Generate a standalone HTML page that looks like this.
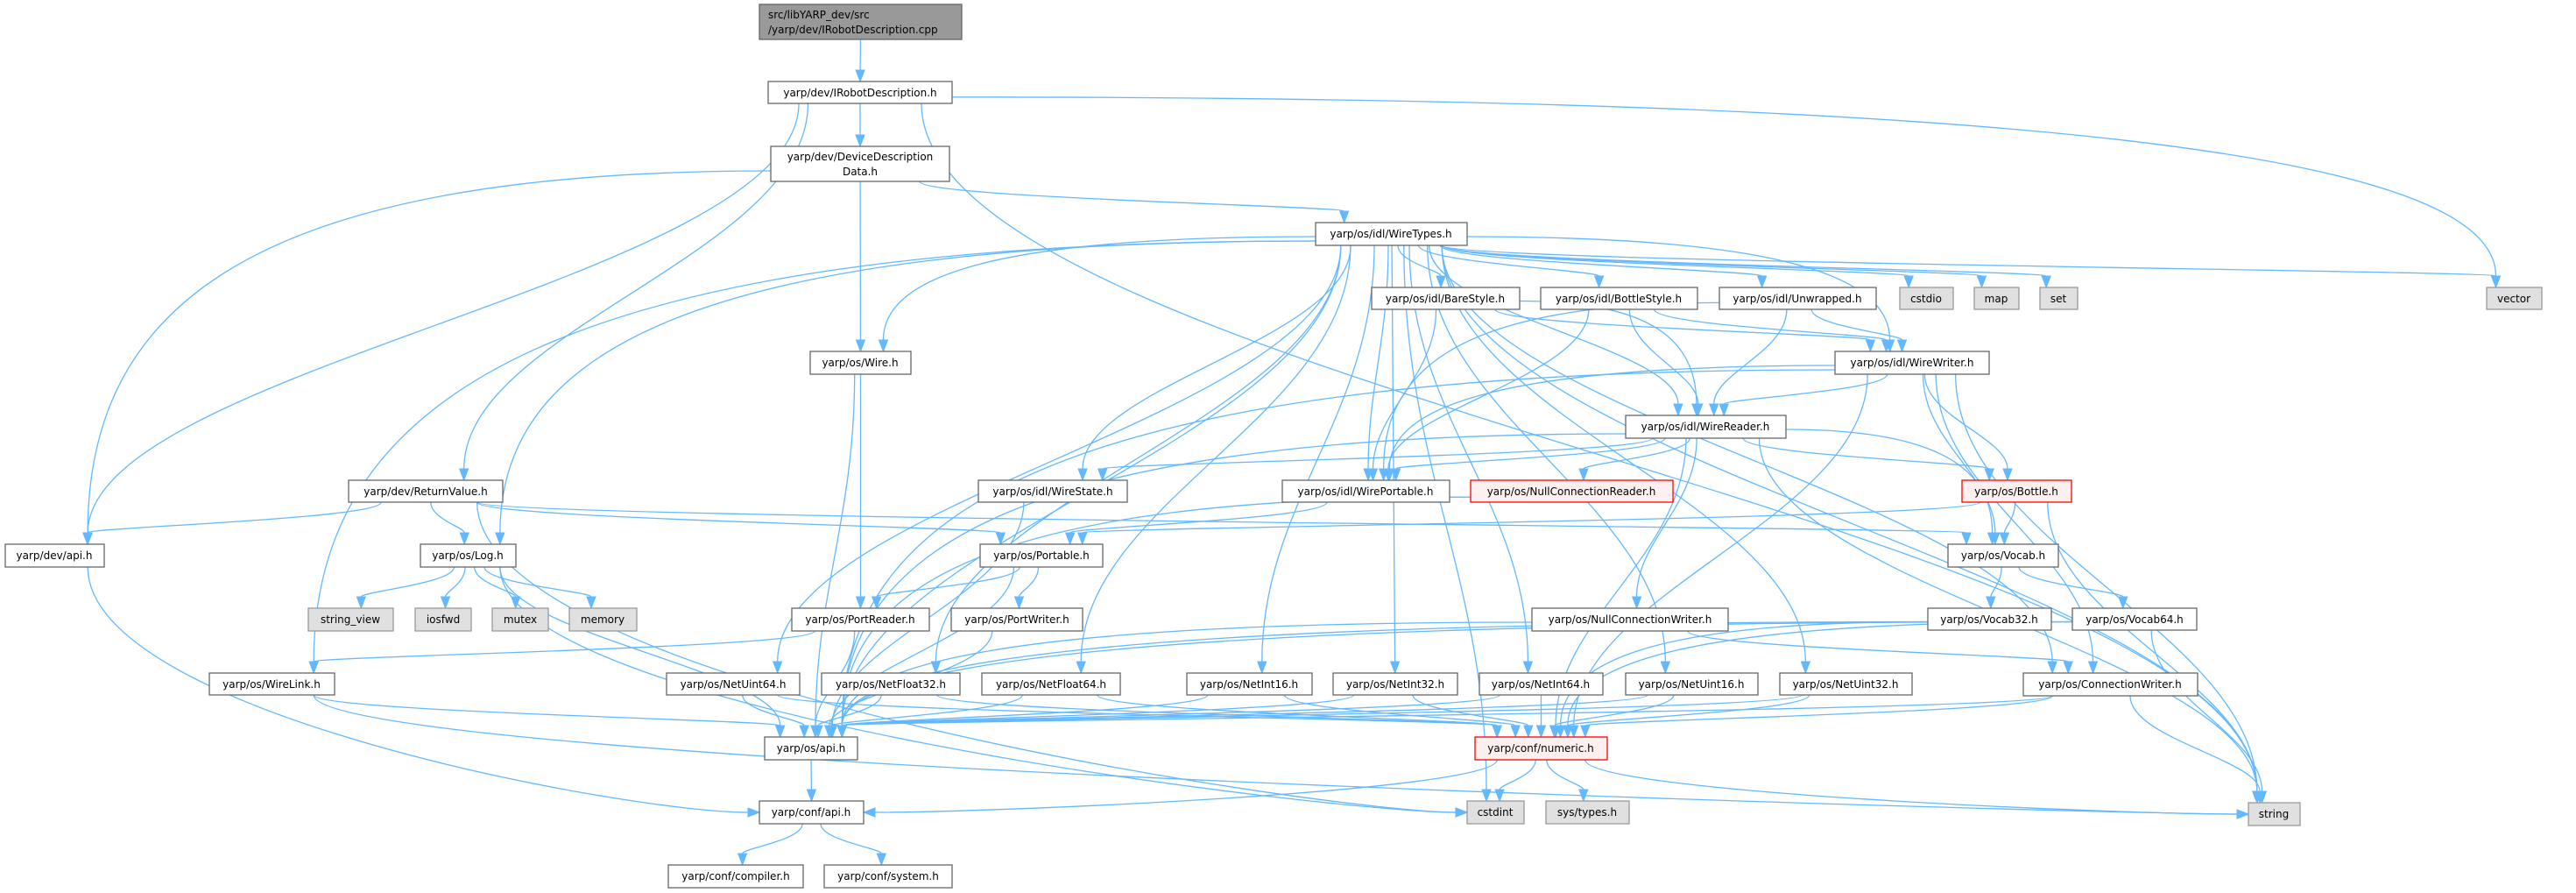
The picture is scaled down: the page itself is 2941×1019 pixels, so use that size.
<!DOCTYPE html>
<html><head><meta charset="utf-8">
<style>
html,body{margin:0;padding:0;background:#fff;}
svg{display:block;}
text{font-family:"DejaVu Sans","Liberation Sans",sans-serif;font-size:12px;fill:#000;}
</style></head>
<body>
<svg id="g" width="2941" height="1019" viewBox="0 0 2941 1019" xmlns="http://www.w3.org/2000/svg">
<g id="edges" fill="none" stroke="#63b8ff" stroke-width="1.3"></g>
<g id="arrows" fill="#63b8ff" stroke="#63b8ff" stroke-width="1"></g>
<g id="nodes" stroke-width="1.3">
<rect x="867" y="5" width="231" height="40" fill="#999999" stroke="#666666"/>
<text x="877" y="21">src/libYARP_dev/src</text><text x="877" y="38">/yarp/dev/IRobotDescription.cpp</text>
<rect x="877" y="93" width="210" height="25" fill="#fff" stroke="#666"/><text x="982" y="110" text-anchor="middle">yarp/dev/IRobotDescription.h</text>
<rect x="880" y="167" width="204" height="40" fill="#fff" stroke="#666"/><text x="982" y="183" text-anchor="middle">yarp/dev/DeviceDescription</text><text x="982" y="200" text-anchor="middle">Data.h</text>
<rect x="1502" y="254" width="173" height="26" fill="#fff" stroke="#666"/><text x="1588" y="271" text-anchor="middle">yarp/os/idl/WireTypes.h</text>
<rect x="925" y="401" width="115" height="26" fill="#fff" stroke="#666"/><text x="982" y="418" text-anchor="middle">yarp/os/Wire.h</text>
<rect x="1566" y="328" width="169" height="25" fill="#fff" stroke="#666"/><text x="1650" y="345" text-anchor="middle">yarp/os/idl/BareStyle.h</text>
<rect x="1759" y="328" width="179" height="25" fill="#fff" stroke="#666"/><text x="1848" y="345" text-anchor="middle">yarp/os/idl/BottleStyle.h</text>
<rect x="1963" y="328" width="179" height="25" fill="#fff" stroke="#666"/><text x="2052" y="345" text-anchor="middle">yarp/os/idl/Unwrapped.h</text>
<rect x="2169" y="328" width="61" height="25" fill="#e0e0e0" stroke="#999"/><text x="2199" y="345" text-anchor="middle">cstdio</text>
<rect x="2254" y="328" width="51" height="25" fill="#e0e0e0" stroke="#999"/><text x="2279" y="345" text-anchor="middle">map</text>
<rect x="2329" y="328" width="43" height="25" fill="#e0e0e0" stroke="#999"/><text x="2350" y="345" text-anchor="middle">set</text>
<rect x="2839" y="328" width="63" height="25" fill="#e0e0e0" stroke="#999"/><text x="2870" y="345" text-anchor="middle">vector</text>
<rect x="2095" y="401" width="176" height="26" fill="#fff" stroke="#666"/><text x="2183" y="418" text-anchor="middle">yarp/os/idl/WireWriter.h</text>
<rect x="1856" y="474" width="183" height="26" fill="#fff" stroke="#666"/><text x="1947" y="491" text-anchor="middle">yarp/os/idl/WireReader.h</text>
<rect x="398" y="548" width="176" height="25" fill="#fff" stroke="#666"/><text x="486" y="565" text-anchor="middle">yarp/dev/ReturnValue.h</text>
<rect x="1117" y="548" width="170" height="25" fill="#fff" stroke="#666"/><text x="1202" y="565" text-anchor="middle">yarp/os/idl/WireState.h</text>
<rect x="1464" y="548" width="191" height="25" fill="#fff" stroke="#666"/><text x="1559" y="565" text-anchor="middle">yarp/os/idl/WirePortable.h</text>
<rect x="1679" y="548" width="231" height="25" fill="#fff0f0" stroke="#ff0000"/><text x="1794" y="565" text-anchor="middle">yarp/os/NullConnectionReader.h</text>
<rect x="2240" y="548" width="125" height="25" fill="#fff0f0" stroke="#ff0000"/><text x="2302" y="565" text-anchor="middle">yarp/os/Bottle.h</text>
<rect x="6" y="621" width="113" height="26" fill="#fff" stroke="#666"/><text x="62" y="638" text-anchor="middle">yarp/dev/api.h</text>
<rect x="480" y="621" width="109" height="26" fill="#fff" stroke="#666"/><text x="534" y="638" text-anchor="middle">yarp/os/Log.h</text>
<rect x="1119" y="621" width="140" height="26" fill="#fff" stroke="#666"/><text x="1189" y="638" text-anchor="middle">yarp/os/Portable.h</text>
<rect x="2224" y="621" width="126" height="26" fill="#fff" stroke="#666"/><text x="2287" y="638" text-anchor="middle">yarp/os/Vocab.h</text>
<rect x="352" y="694" width="97" height="26" fill="#e0e0e0" stroke="#999"/><text x="400" y="711" text-anchor="middle">string_view</text>
<rect x="474" y="694" width="64" height="26" fill="#e0e0e0" stroke="#999"/><text x="506" y="711" text-anchor="middle">iosfwd</text>
<rect x="562" y="694" width="64" height="26" fill="#e0e0e0" stroke="#999"/><text x="594" y="711" text-anchor="middle">mutex</text>
<rect x="650" y="694" width="77" height="26" fill="#e0e0e0" stroke="#999"/><text x="688" y="711" text-anchor="middle">memory</text>
<rect x="904" y="694" width="157" height="26" fill="#fff" stroke="#666"/><text x="982" y="711" text-anchor="middle">yarp/os/PortReader.h</text>
<rect x="1086" y="694" width="150" height="26" fill="#fff" stroke="#666"/><text x="1161" y="711" text-anchor="middle">yarp/os/PortWriter.h</text>
<rect x="1749" y="694" width="224" height="26" fill="#fff" stroke="#666"/><text x="1861" y="711" text-anchor="middle">yarp/os/NullConnectionWriter.h</text>
<rect x="2201" y="694" width="141" height="25" fill="#fff" stroke="#666"/><text x="2271" y="711" text-anchor="middle">yarp/os/Vocab32.h</text>
<rect x="2366" y="694" width="142" height="25" fill="#fff" stroke="#666"/><text x="2437" y="711" text-anchor="middle">yarp/os/Vocab64.h</text>
<rect x="239" y="768" width="143" height="25" fill="#fff" stroke="#666"/><text x="310" y="785" text-anchor="middle">yarp/os/WireLink.h</text>
<rect x="761" y="768" width="152" height="25" fill="#fff" stroke="#666"/><text x="837" y="785" text-anchor="middle">yarp/os/NetUint64.h</text>
<rect x="938" y="768" width="158" height="25" fill="#fff" stroke="#666"/><text x="1017" y="785" text-anchor="middle">yarp/os/NetFloat32.h</text>
<rect x="1121" y="768" width="158" height="25" fill="#fff" stroke="#666"/><text x="1200" y="785" text-anchor="middle">yarp/os/NetFloat64.h</text>
<rect x="1355" y="768" width="143" height="25" fill="#fff" stroke="#666"/><text x="1426" y="785" text-anchor="middle">yarp/os/NetInt16.h</text>
<rect x="1522" y="768" width="142" height="25" fill="#fff" stroke="#666"/><text x="1593" y="785" text-anchor="middle">yarp/os/NetInt32.h</text>
<rect x="1689" y="768" width="141" height="25" fill="#fff" stroke="#666"/><text x="1759" y="785" text-anchor="middle">yarp/os/NetInt64.h</text>
<rect x="1856" y="768" width="151" height="25" fill="#fff" stroke="#666"/><text x="1931" y="785" text-anchor="middle">yarp/os/NetUint16.h</text>
<rect x="2032" y="768" width="151" height="25" fill="#fff" stroke="#666"/><text x="2107" y="785" text-anchor="middle">yarp/os/NetUint32.h</text>
<rect x="2310" y="768" width="199" height="26" fill="#fff" stroke="#666"/><text x="2409" y="785" text-anchor="middle">yarp/os/ConnectionWriter.h</text>
<rect x="873" y="841" width="106" height="26" fill="#fff" stroke="#666"/><text x="926" y="858" text-anchor="middle">yarp/os/api.h</text>
<rect x="1684" y="841" width="151" height="26" fill="#fff0f0" stroke="#ff0000"/><text x="1759" y="858" text-anchor="middle">yarp/conf/numeric.h</text>
<rect x="867" y="914" width="119" height="26" fill="#fff" stroke="#666"/><text x="926" y="931" text-anchor="middle">yarp/conf/api.h</text>
<rect x="1675" y="914" width="65" height="26" fill="#e0e0e0" stroke="#999"/><text x="1707" y="931" text-anchor="middle">cstdint</text>
<rect x="1765" y="914" width="95" height="26" fill="#e0e0e0" stroke="#999"/><text x="1812" y="931" text-anchor="middle">sys/types.h</text>
<rect x="2567" y="916" width="59" height="26" fill="#e0e0e0" stroke="#999"/><text x="2596" y="933" text-anchor="middle">string</text>
<rect x="763" y="987" width="154" height="26" fill="#fff" stroke="#666"/><text x="840" y="1004" text-anchor="middle">yarp/conf/compiler.h</text>
<rect x="941" y="987" width="146" height="26" fill="#fff" stroke="#666"/><text x="1014" y="1004" text-anchor="middle">yarp/conf/system.h</text>
</g>
</svg>
<script>
var N={root:[867,5,1098,45],IRD:[877,93,1087,118],DDD:[880,167,1084,207],WT:[1502,254,1675,280],Wire:[925,401,1040,427],
Bare:[1566,328,1735,353],BS:[1759,328,1938,353],Unw:[1963,328,2142,353],cstdio:[2169,328,2230,353],map:[2254,328,2305,353],set:[2329,328,2372,353],vector:[2839,328,2902,353],
WW:[2095,401,2271,427],WR:[1856,474,2039,500],RV:[398,548,574,573],WS:[1117,548,1287,573],WP:[1464,548,1655,573],NCR:[1679,548,1910,573],Bottle:[2240,548,2365,573],
devapi:[6,621,119,647],Log:[480,621,589,647],Portable:[1119,621,1259,647],Vocab:[2224,621,2350,647],
sv:[352,694,449,720],iosfwd:[474,694,538,720],mutex:[562,694,626,720],memory:[650,694,727,720],PR:[904,694,1061,720],PW:[1086,694,1236,720],NCW:[1749,694,1973,720],V32:[2201,694,2342,719],V64:[2366,694,2508,719],
WL:[239,768,382,793],NU64:[761,768,913,793],NF32:[938,768,1096,793],NF64:[1121,768,1279,793],NI16:[1355,768,1498,793],NI32:[1522,768,1664,793],NI64:[1689,768,1830,793],NU16:[1856,768,2007,793],NU32:[2032,768,2183,793],CW:[2310,768,2509,794],
osapi:[873,841,979,867],numeric:[1684,841,1835,867],confapi:[867,914,986,940],cstdint:[1675,914,1740,940],systypes:[1765,914,1860,940],string:[2567,916,2626,942],compiler:[763,987,917,1013],system:[941,987,1087,1013]};
var E=[["root","IRD"],["IRD","DDD"],["IRD","devapi"],["IRD","RV"],["IRD","vector"],["IRD","string"],
["DDD","devapi"],["DDD","WT"],["DDD","Wire"],
["WT","WL"],["WT","NU64"],["WT","NF32"],["WT","Log"],["WT","osapi"],["WT","Wire"],["WT","WS"],["WT","WP"],["WT","WR"],["WT","WW"],["WT","Bare"],["WT","BS"],["WT","Unw"],["WT","cstdio"],["WT","map"],["WT","set"],["WT","vector"],["WT","string"],["WT","NF64"],["WT","NI16"],["WT","NI32"],["WT","NI64"],["WT","NU16"],["WT","NU32"],["WT","cstdint"],["WT","CW"],
["Wire","PR"],["Wire","osapi"],
["Bare","WR"],["Bare","WW"],["Bare","WP"],["BS","WR"],["BS","WW"],["BS","WP"],["Unw","WR"],["Unw","WW"],["Unw","WP"],
["WW","WR"],["WW","WP"],["WW","Bottle"],["WW","Vocab"],["WW","string"],["WW","osapi"],["WW","numeric"],["WW","CW"],
["WR","WS"],["WR","WP"],["WR","NCR"],["WR","NCW"],["WR","Bottle"],["WR","Vocab"],["WR","osapi"],["WR","numeric"],["WR","string"],
["Bottle","Portable"],["Bottle","Vocab"],["Bottle","string"],["Vocab","V32"],["Vocab","V64"],
["V32","osapi"],["V32","numeric"],["V64","osapi"],["V64","numeric"],["V64","string"],
["RV","devapi"],["RV","Log"],["RV","Portable"],["RV","Vocab"],["RV","cstdint"],
["Log","sv"],["Log","iosfwd"],["Log","mutex"],["Log","memory"],["Log","osapi"],["Log","cstdint"],
["Portable","PR"],["Portable","PW"],["Portable","osapi"],["PR","osapi"],["PR","WL"],["PW","osapi"],
["NCR","osapi"],["NCW","osapi"],["NCW","CW"],["WL","osapi"],["WL","string"],["WS","osapi"],["WP","Portable"],
["NU64","osapi"],["NU64","numeric"],["NF32","osapi"],["NF32","numeric"],["NF64","osapi"],["NF64","numeric"],["NI16","osapi"],["NI16","numeric"],["NI32","osapi"],["NI32","numeric"],["NI64","osapi"],["NI64","numeric"],["NU16","osapi"],["NU16","numeric"],["NU32","osapi"],["NU32","numeric"],
["CW","osapi"],["CW","string"],["CW","numeric"],
["osapi","confapi"],["devapi","confapi"],["confapi","compiler"],["confapi","system"],
["numeric","confapi"],["numeric","cstdint"],["numeric","systypes"],["numeric","string"]];
var ns="http://www.w3.org/2000/svg",eg=document.getElementById("edges"),ag=document.getElementById("arrows");
E.forEach(function(e){
 var s=N[e[0]],t=N[e[1]];
 var scx=(s[0]+s[2])/2,tcx=(t[0]+t[2])/2,tw=t[2]-t[0],sw=s[2]-s[0];
 var sx=scx+Math.max(-sw/3,Math.min(sw/3,(tcx-scx)*0.12)),sy=s[3];
 var tx,ty,c1x,c1y,c2x,c2y;
 var dy=t[1]-sy, dx=tcx-sx;
 if(Math.abs(dx)>3*Math.max(dy,1)&&dy>40&&t[1]>880){
   ty=(t[1]+t[3])/2; tx= sx<t[0]?t[0]:t[2];
   c1x=sx;c1y=sy+(ty-sy)*0.6;c2x=tx+(sx<t[0]?-150:150);c2y=ty;
 }else if(dy>100&&Math.abs(dx)>2*dy&&t[1]<880){
   var left=dx<0;
   sx=left?s[0]:s[2]; sy=(s[1]+s[3])/2+Math.max(-8,Math.min(8,dy/40));
   tx=tcx+Math.max(-tw/3,Math.min(tw/3,(sx-tcx)*0.05)); ty=t[1];
   c1x=sx+(tx-sx)*0.75; c1y=sy; c2x=tx; c2y=sy+(ty-sy)*0.35;
 }else{
   tx=tcx+Math.max(-tw/3,Math.min(tw/3,(sx-tcx)*0.1));ty=t[1];
   c1x=sx;c1y=sy+dy*0.4;c2x=tx;c2y=ty-dy*0.4;
   if(dy<30){c1y=sy+20;c2y=ty-20;}
 }
 var ang=Math.atan2(ty-c2y,tx-c2x),L=13,W=5;
 var bx=tx-L*Math.cos(ang),by=ty-L*Math.sin(ang);
 var p=document.createElementNS(ns,"path");
 p.setAttribute("d","M"+sx+","+sy+" C"+c1x+","+c1y+" "+c2x+","+c2y+" "+bx+","+by);
 eg.appendChild(p);
 var px=-Math.sin(ang),py=Math.cos(ang);
 var a=document.createElementNS(ns,"polygon");
 a.setAttribute("points",tx+","+ty+" "+(bx+W*px)+","+(by+W*py)+" "+(bx-W*px)+","+(by-W*py));
 ag.appendChild(a);
});
</script>
</body></html>
